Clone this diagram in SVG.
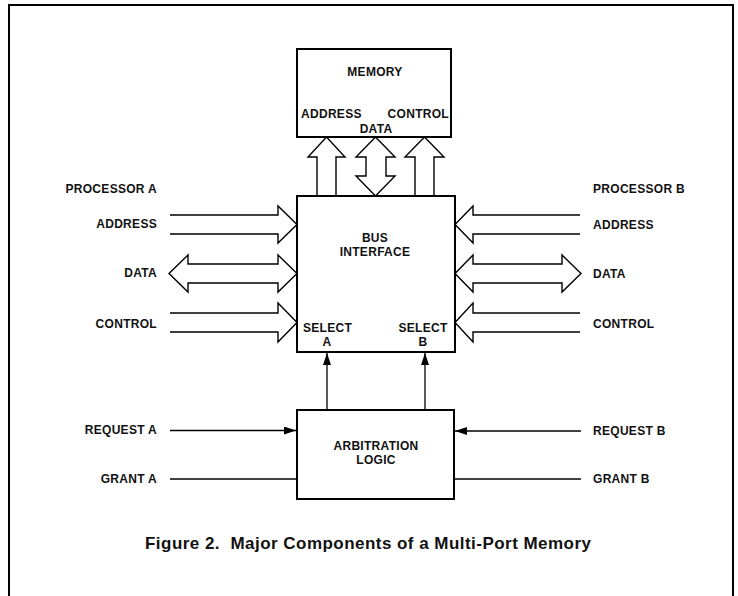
<svg xmlns="http://www.w3.org/2000/svg" width="738" height="596" viewBox="0 0 738 596">
<style>
  .box { fill: #fff; stroke: #000; stroke-width: 2; }
  .bus { fill: #fff; stroke: #000; stroke-width: 1.4; stroke-linejoin: miter; }
  .wire { fill: none; stroke: #000; stroke-width: 1.3; }
  .lbl { font-family: "Liberation Sans", Arial, sans-serif; font-weight: bold; font-size: 12px; letter-spacing: 0.3px; fill: #111; }
  .end { text-anchor: end; }
  .mid { text-anchor: middle; }
  .cap { font-family: "Liberation Sans", Arial, sans-serif; font-weight: bold; font-size: 17px; fill: #111; white-space: pre; }
</style>
<defs>
  <marker id="ah" markerWidth="12" markerHeight="8" refX="12" refY="4" orient="auto" markerUnits="userSpaceOnUse">
    <path d="M0,0 L12,4 L0,8 Z" fill="#000"/>
  </marker>
</defs>
<rect width="738" height="596" fill="#fff"/>
<path d="M9,596 V5 H733 V596" fill="none" stroke="#000" stroke-width="2"/>

<g id="connectors">
  <!-- memory buses -->
  <path class="bus" d="M317,196 V157 H308 L326.5,137 L345,157 H336 V196"/>
  <path class="bus" d="M366,157 H356 L375.5,137 L395,157 H386 V176 H395 L375.5,196 L356,176 H366 Z"/>
  <path class="bus" d="M415,196 V157 H405 L424.5,137 L444,157 H434 V196"/>
  <!-- processor A buses -->
  <path class="bus" d="M170,215 H278 V206 L297,224.5 L278,243 V234 H170"/>
  <path class="bus" d="M169,273.5 L188,255 V264 H278 V255 L297,273.5 L278,292 V283 H188 V292 Z"/>
  <path class="bus" d="M170,313 H278 V303 L297,322.5 L278,342 V332 H170"/>
  <!-- processor B buses -->
  <path class="bus" d="M580,215 H473 V206 L455,224.5 L473,243 V234 H580"/>
  <path class="bus" d="M455,273.5 L473,255 V264 H562 V255 L581,273.5 L562,292 V283 H473 V292 Z"/>
  <path class="bus" d="M580,313 H473 V303 L455,322.5 L473,342 V332 H580"/>
  <!-- select lines -->
  <line class="wire" x1="327" y1="410" x2="327" y2="353" marker-end="url(#ah)"/>
  <line class="wire" x1="425" y1="410" x2="425" y2="353" marker-end="url(#ah)"/>
  <!-- request / grant -->
  <line class="wire" x1="170" y1="430.5" x2="296" y2="430.5" marker-end="url(#ah)"/>
  <line class="wire" x1="581" y1="431" x2="455" y2="431" marker-end="url(#ah)"/>
  <line class="wire" x1="170" y1="479" x2="297" y2="479"/>
  <line class="wire" x1="454" y1="479" x2="581" y2="479"/>
</g>

<g id="memory">
  <rect class="box" x="297" y="49" width="154" height="88"/>
  <text class="lbl mid" x="375" y="76">MEMORY</text>
  <text class="lbl" x="301" y="118">ADDRESS</text>
  <text class="lbl end" x="449" y="118">CONTROL</text>
  <text class="lbl mid" x="376" y="133">DATA</text>
</g>

<g id="bus-interface">
  <rect class="box" x="297" y="196" width="158" height="156"/>
  <text class="lbl mid" x="375" y="242">BUS</text>
  <text class="lbl mid" x="375" y="256">INTERFACE</text>
  <text class="lbl mid" x="327.5" y="332">SELECT</text>
  <text class="lbl mid" x="327" y="346">A</text>
  <text class="lbl mid" x="423" y="332">SELECT</text>
  <text class="lbl mid" x="423" y="346">B</text>
</g>

<g id="arbitration-logic">
  <rect class="box" x="297" y="410" width="157" height="89"/>
  <text class="lbl mid" x="376" y="450">ARBITRATION</text>
  <text class="lbl mid" x="376" y="464">LOGIC</text>
</g>

<g id="processor-a">
  <text class="lbl end" x="157" y="193">PROCESSOR A</text>
  <text class="lbl end" x="157" y="228">ADDRESS</text>
  <text class="lbl end" x="157" y="277">DATA</text>
  <text class="lbl end" x="157" y="328">CONTROL</text>
  <text class="lbl end" x="157" y="434">REQUEST A</text>
  <text class="lbl end" x="157" y="483">GRANT A</text>
</g>

<g id="processor-b">
  <text class="lbl" x="593" y="193">PROCESSOR B</text>
  <text class="lbl" x="593" y="229">ADDRESS</text>
  <text class="lbl" x="593" y="278">DATA</text>
  <text class="lbl" x="593" y="328">CONTROL</text>
  <text class="lbl" x="593" y="435">REQUEST B</text>
  <text class="lbl" x="593" y="483">GRANT B</text>
</g>

<text class="cap" x="145" y="549" textLength="446" lengthAdjust="spacing">Figure 2.  Major Components of a Multi-Port Memory</text>
</svg>
